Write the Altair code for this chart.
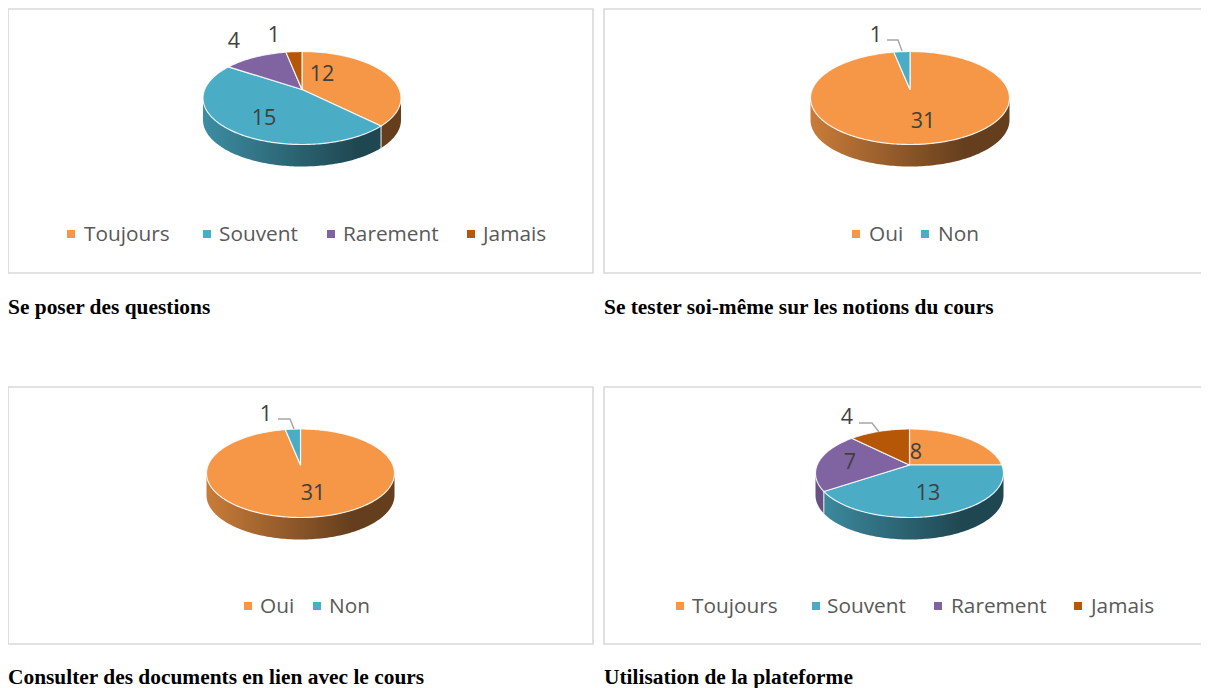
import math
import altair as alt

# ---- data ----
TITLES = ["Se poser des questions", "Se tester soi-même sur les notions du cours",
          "Consulter des documents en lien avec le cours", "Utilisation de la plateforme"]
FREQ_CATEGORIES = ["Toujours", "Souvent", "Rarement", "Jamais"]
YESNO_CATEGORIES = ["Oui", "Non"]
VALUES_QUESTIONS = [12, 15, 4, 1]
VALUES_TESTER = [31, 1]
VALUES_DOCUMENTS = [31, 1]
VALUES_PLATEFORME = [8, 13, 7, 4]
COLORS = ["#F59746", "#4BACC6", "#8064A2", "#B65708"]

# ---- layout (page pixels) ----
OX, OY = 8, 8
W, H = 1193, 680
FONT = "Open Sans"
PANELS = [
    dict(values=VALUES_QUESTIONS, cats=FREQ_CATEGORIES, cx=302, cy=89.5, up=38, down=55, rx=99,
         frame=(8, 9, 593, 273), title_y=307.5, legend_y=234,
         marks=[71, 207, 331, 471], legend_x=[84, 219, 343, 483],
         lab=[(322, 73), (264, 117), (234, 40), (274, 34)], leader=None),
    dict(values=VALUES_TESTER, cats=YESNO_CATEGORIES, cx=910, cy=89.5, up=38, down=55, rx=99.5,
         frame=(604, 9, 1201, 273), title_y=307.5, legend_y=234,
         marks=[856, 925], legend_x=[869, 938],
         lab=[(923, 120), (876, 34)], leader=[(887, 40), (898, 40), (902, 51)]),
    dict(values=VALUES_DOCUMENTS, cats=YESNO_CATEGORIES, cx=300.5, cy=465, up=36, down=52.5, rx=94,
         frame=(8, 387, 593, 644), title_y=678, legend_y=606,
         marks=[248, 317], legend_x=[260, 329],
         lab=[(313, 492), (266, 413)], leader=[(278, 419), (290, 419), (294, 429)]),
    dict(values=VALUES_PLATEFORME, cats=FREQ_CATEGORIES, cx=909.5, cy=465, up=36, down=52.5, rx=94,
         frame=(604, 387, 1201, 644), title_y=678, legend_y=606,
         marks=[680, 816, 938, 1078], legend_x=[692, 827, 951, 1091],
         lab=[(916, 451), (928, 492), (850, 461), (847, 416)], leader=[(859, 423), (872, 423), (879, 432)]),
]
DEPTH = 22


def shade(color, f):
    r, g, b = (int(color[i:i + 2], 16) for i in (1, 3, 5))
    return "#%02x%02x%02x" % (round(r * f), round(g * f), round(b * f))


def factor(t):
    return 0.82 + (0.41 - 0.82) * min(t / 0.78, 1.0)


def feature(kind, coords):
    return {"type": "Feature", "properties": {}, "geometry": {"type": kind, "coordinates": coords}}


PROJ = dict(type="identity")
layers = []
texts, squares = [], []


def lines(coords, color, width):
    pts = [[x - OX, y - OY] for x, y in coords]
    return alt.Chart(alt.Data(values=[feature("LineString", pts)])).mark_geoshape(
        filled=False, stroke=color, strokeWidth=width).project(**PROJ)


# the projection fits its data to the view: this invisible diagonal makes that fit 1:1
layers.append(lines([(OX, OY), (OX + W, OY + H)], "transparent", 0))

for p in PANELS:
    x0, y0, x1, y1 = p["frame"]
    layers.append(lines([(x1, y0), (x0, y0), (x0, y1), (x1, y1)] if x1 >= 1201 else
                        [(x0, y0), (x1, y0), (x1, y1), (x0, y1), (x0, y0)], "#d9d9d9", 1.6))

    q = (p["down"] - p["up"]) / (p["down"] + p["up"])
    ry0 = p["down"] * (1 - q)
    rx0 = p["rx"] * math.sqrt(1 - q * q)

    def rim(a):
        u, v = math.sin(a), math.cos(a)
        d = 1 + q * v
        return (p["cx"] + rx0 * u / d, p["cy"] - ry0 * v / d)

    total = sum(p["values"])
    edges = [0.0]
    for v in p["values"]:
        edges.append(edges[-1] + v / total * 2 * math.pi)
    front0 = math.acos(-q)
    front1 = 2 * math.pi - front0
    xl, xr = p["cx"] - p["rx"], p["cx"] + p["rx"]

    # side walls
    for i, col in enumerate(COLORS[:len(p["values"])]):
        a0, a1 = max(edges[i], front0), min(edges[i + 1], front1)
        if a1 <= a0:
            continue
        n = max(4, int((a1 - a0) * 50))
        arc = [rim(a0 + (a1 - a0) * k / n) for k in range(n + 1)]
        poly = arc + [(x, y + DEPTH) for x, y in reversed(arc)] + [arc[0]]
        xs = [c[0] for c in arc]
        lo, hi = min(xs), max(xs)

        def stop(off):
            t = (lo + (hi - lo) * off - xl) / (xr - xl)
            return alt.GradientStop(offset=off, color=shade(col, factor(t)))
        offs = [0, 1]
        tk = xl + 0.78 * (xr - xl)
        if lo < tk < hi:
            offs = [0, (tk - lo) / (hi - lo), 1]
        grad = alt.Gradient(gradient="linear", x1=0, x2=1, y1=0, y2=0, stops=[stop(o) for o in offs])
        pts = [[x - OX, y - OY] for x, y in poly]
        layers.append(alt.Chart(alt.Data(values=[feature("Polygon", [pts])])).mark_geoshape(
            fill=grad, strokeWidth=0).project(**PROJ))

    # seams between walls
    for e in edges[1:-1]:
        if front0 < e < front1:
            x, y = rim(e)
            layers.append(lines([(x, y), (x, y + DEPTH)], "#f2f2f2", 1))

    # top faces
    for i, col in enumerate(COLORS[:len(p["values"])]):
        a0, a1 = edges[i], edges[i + 1]
        n = max(4, int((a1 - a0) * 50))
        arc = [rim(a0 + (a1 - a0) * k / n) for k in range(n + 1)]
        poly = [(p["cx"], p["cy"])] + arc + [(p["cx"], p["cy"])]
        pts = [[x - OX, y - OY] for x, y in poly]
        layers.append(alt.Chart(alt.Data(values=[feature("Polygon", [pts])])).mark_geoshape(
            fill=col, stroke="#ffffff", strokeWidth=1.2, strokeOpacity=0.85, strokeJoin="round").project(**PROJ))

    if p["leader"]:
        layers.append(lines(p["leader"], "#a6a6a6", 1.4))

    for v, (x, y) in zip(p["values"], p["lab"]):
        texts.append(dict(t=str(v), x=x - OX, y=y - OY + 1.6, kind="label"))
    for c, col, mx, lx in zip(p["cats"], COLORS, p["marks"], p["legend_x"]):
        squares.append(dict(x=mx - OX, y=p["legend_y"] - OY, c=col))
        texts.append(dict(t=c, x=lx - OX, y=p["legend_y"] - OY + 0.8, kind="legend"))

captions = [dict(t=t, x=p["frame"][0] - OX, y=p["title_y"] - OY) for t, p in zip(TITLES, PANELS)]

X = alt.X("x:Q", scale=None, axis=None)
Y = alt.Y("y:Q", scale=None, axis=None)
label_layer = alt.Chart(alt.Data(values=[d for d in texts if d["kind"] == "label"])).mark_text(
    font=FONT, fontSize=21.5, color="#404040", align="center", baseline="middle").encode(x=X, y=Y, text="t:N")
legend_layer = alt.Chart(alt.Data(values=[d for d in texts if d["kind"] == "legend"])).mark_text(
    font=FONT, fontSize=20.8, color="#595959", align="left", baseline="middle").encode(x=X, y=Y, text="t:N")
square_layer = alt.Chart(alt.Data(values=squares)).mark_square(size=64, opacity=1, filled=True).encode(
    x=X, y=Y, fill=alt.Fill("c:N", scale=None))
caption_layer = alt.Chart(alt.Data(values=captions)).mark_text(
    font="Liberation Serif", fontSize=21.4, fontWeight="bold", color="#000000", align="left", baseline="middle"
).encode(x=X, y=Y, text="t:N")

chart = alt.layer(*layers, square_layer, label_layer, legend_layer, caption_layer).properties(
    width=W, height=H, padding=0, autosize=alt.AutoSizeParams(type="none"), background="#ffffff",
).configure_view(stroke=None)

chart.save("out.html", embed_options={"renderer": "svg", "actions": False})
